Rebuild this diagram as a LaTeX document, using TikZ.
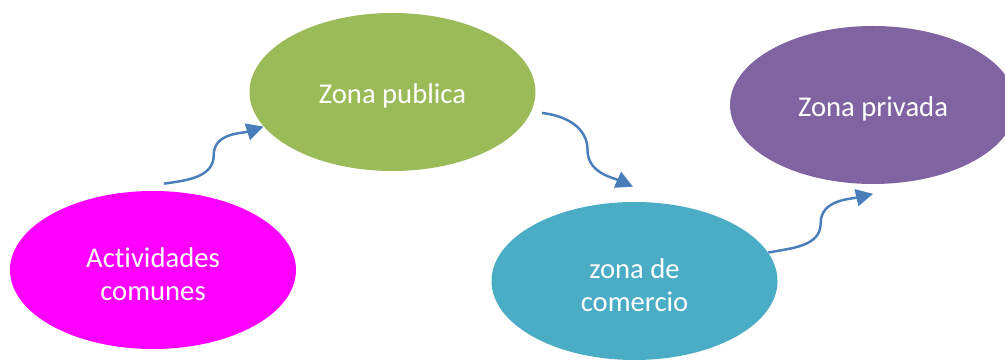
\documentclass[tikz,border=0pt]{standalone}
\usepackage{fontspec}
\setmainfont{Carlito}[Ligatures=NoCommon]
\usepackage{tikz}
\usetikzlibrary{shapes.geometric,arrows.meta,calc}
\usepackage{xcolor}
\definecolor{zmagenta}{HTML}{FF00FF}
\definecolor{zgreen}{HTML}{9BBB59}
\definecolor{zteal}{HTML}{4BACC6}
\definecolor{zpurple}{HTML}{8064A2}
\definecolor{zarrow}{HTML}{4A7EBB}
\newcommand{\zonatxt}[2][-2.8pt]{\raisebox{#1}[\height][\depth]{\begin{tabular}{@{}c@{}}#2\end{tabular}}}
\begin{document}
\begin{tikzpicture}[x=1cm,y=1cm,every node/.style={font=\fontsize{16.3}{19}\selectfont},
  zona/.style={ellipse,minimum width=5.72cm,minimum height=3.16cm,inner sep=0pt,text=white},
  flecha/.style={draw=zarrow,line width=1.4pt,-{Triangle[length=0.34cm,width=0.34cm]}}]
\useasboundingbox (0,0) rectangle (20.1,-7.2);
\node[zona,fill=zmagenta] (act) at (3.06,-5.40) {\zonatxt[-4pt]{Actividades\\comunes}};
\node[zona,fill=zgreen] (pub) at (7.85,-1.84) {\zonatxt{Zona publica}};
\node[zona,fill=zteal] (com) at (12.69,-5.62) {\zonatxt[-4pt]{zona de\\comercio}};
\node[zona,fill=zpurple] (priv) at (17.46,-2.10) {\zonatxt{Zona privada}};
\coordinate (s1) at ($(act.north)+(0.22,0.14)$);
\coordinate (m1) at ($(s1)!0.5!(pub.195)$);
\draw[flecha] (s1) to[out=8,in=-90] (m1) to[out=90,in=198] (pub.195);
\coordinate (s2) at ($(pub.center)+(2.99,-0.42)$);
\coordinate (e2) at ($(com.north)+(-0.03,0.30)$);
\coordinate (m2) at ($(s2)!0.5!(e2)$);
\draw[flecha] (s2) to[out=-6,in=90] (m2) to[out=-90,in=156] (e2);
\coordinate (e3) at ($(priv.south)+(0,-0.19)$);
\coordinate (m3) at ($(com.12)!0.5!(e3)$);
\draw[flecha] (com.12) to[out=11,in=-90] (m3) to[out=90,in=193] (e3);
\end{tikzpicture}
\end{document}
